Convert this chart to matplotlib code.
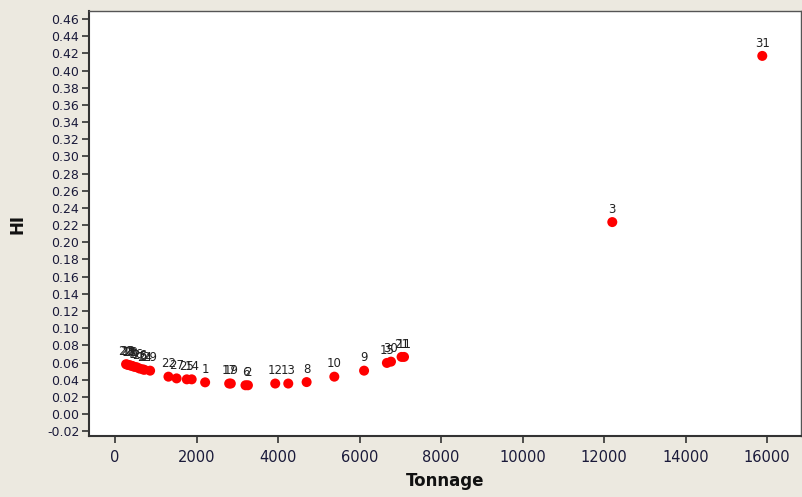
import matplotlib
matplotlib.use("Agg")
import matplotlib.pyplot as plt
import numpy as np

labels = ["20", "28", "18", "23", "7", "4", "16", "26", "5", "24", "29",
          "22", "27", "25", "14", "1", "17", "19", "6", "2",
          "12", "13", "8", "10", "9", "15", "30", "21", "11", "3", "31"]
tonnage = [270, 300, 340, 380, 420, 470, 530, 600, 680, 720, 860,
           1310, 1510, 1760, 1880, 2210, 2800, 2840, 3200, 3260,
           3930, 4250, 4700, 5380, 6110, 6670, 6770, 7030, 7090, 12200, 15880]
hi = [0.058, 0.0575, 0.057, 0.0565, 0.056, 0.055, 0.0545, 0.053, 0.052, 0.0515, 0.0505,
      0.0435, 0.0415, 0.0404, 0.0404, 0.0369, 0.0355, 0.0355, 0.0335, 0.0335,
      0.0355, 0.0355, 0.0372, 0.0435, 0.0505, 0.0595, 0.061, 0.0665, 0.0665, 0.2235, 0.417]

plt.rcParams['font.family'] = ['DejaVu Sans']
bg = "#ECE9E0"
fig = plt.figure(figsize=(8.03, 4.97), dpi=100, facecolor=bg)
ax = fig.add_axes([0.1108, 0.1227, 0.8867, 0.8552])
ax.set_facecolor("white")

ax.scatter(tonnage, hi, s=52, color="#FF0000", edgecolors="none", zorder=3)
for lab, x, y in zip(labels, tonnage, hi):
    ax.annotate(lab, (x, y), xytext=(0, 4.5), textcoords="offset points",
                ha="center", va="bottom", fontsize=8.5, color="#222222")

ax.set_xlim(-640, 16830)
ax.set_ylim(-0.0256, 0.4693)
ax.set_xticks(np.arange(0, 16001, 2000))
ax.set_yticks(np.round(np.arange(-0.02, 0.461, 0.02), 2))
ax.yaxis.set_major_formatter(matplotlib.ticker.FormatStrFormatter("%.2f"))
ax.tick_params(axis="both", direction="out", length=5, width=1.2, color="#333333",
               labelcolor="#1a1a3a")
ax.tick_params(axis="y", labelsize=9, pad=2)
ax.tick_params(axis="x", labelsize=10.5, pad=5)
for side in ["left", "bottom"]:
    ax.spines[side].set_color("#333333")
    ax.spines[side].set_linewidth(1.5)
for side in ["top", "right"]:
    ax.spines[side].set_color("#555555")
    ax.spines[side].set_linewidth(1.0)

ax.set_xlabel("Tonnage", fontsize=12, fontweight="bold", color="#111111", labelpad=5)
ax.set_ylabel("HI", fontsize=12, fontweight="bold", color="#111111", labelpad=15)

fig.savefig("out.png", dpi=100, facecolor=bg)
